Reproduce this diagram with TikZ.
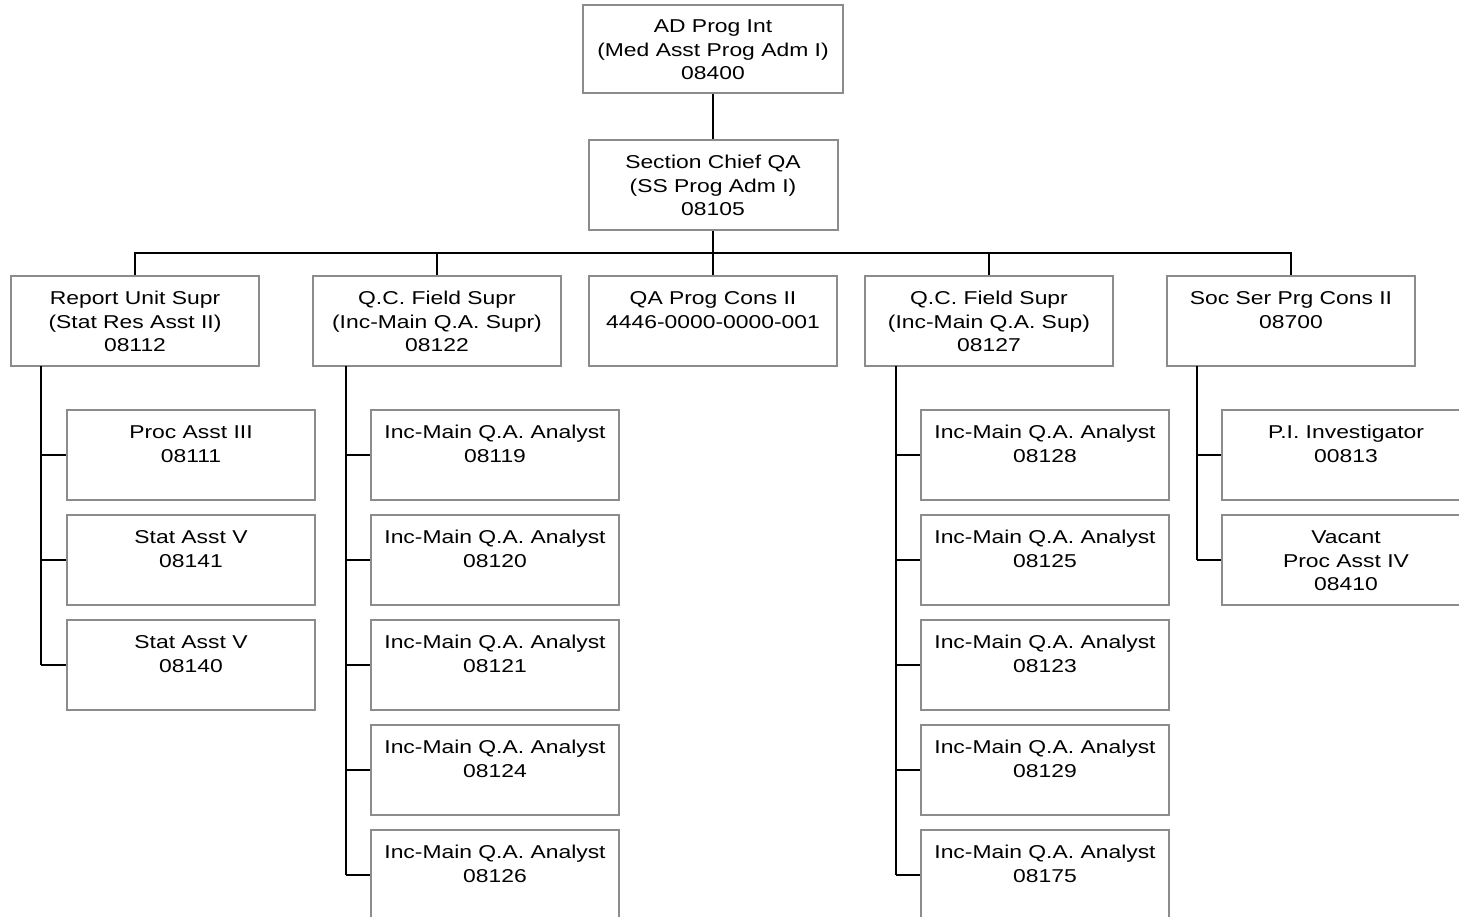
\documentclass[tikz,border=0pt]{standalone}
\usepackage{fontspec}
\setmainfont{Liberation Sans}[FakeStretch=1.23]
\definecolor{boxgray}{RGB}{140,140,140}
\newcommand\ls{\rule[-4pt]{0pt}{22pt}}
\begin{document}
\begin{tikzpicture}[x=1pt,y=-1pt,
  orgbox/.style={draw=boxgray, line width=2pt, fill=white, minimum width=248pt,
    minimum height=90pt, inner sep=0pt, align=center,
    font=\fontsize{18.6}{23.5}\selectfont},
  topbox/.style={orgbox, minimum width=260pt, minimum height=88pt},
  spine/.style={line width=1.8pt, black},
  stub/.style={line width=1.1pt, black}]
\clip (0,0) rectangle (1459,916);
\fill[white] (0,0) rectangle (1459,916);

% top levels
\node[topbox] (A) at (713,49) {\ls AD Prog Int\\\ls (Med Asst Prog Adm I)\\\ls 08400};
\node[orgbox, minimum width=249pt] (B) at (713,185) {\ls Section Chief QA\\\ls (SS Prog Adm I)\\\ls 08105};

% second level
\node[orgbox] (R)  at (135,321) {\ls Report Unit Supr\\\ls (Stat Res Asst II)\\\ls 08112};
\node[orgbox] (Q1) at (437,321) {\ls Q.C. Field Supr\\\ls (Inc-Main Q.A. Supr)\\\ls 08122};
\node[orgbox] (QA) at (713,321) {\ls QA Prog Cons II\\\ls 4446-0000-0000-001\\\ls};
\node[orgbox] (Q2) at (989,321) {\ls Q.C. Field Supr\\\ls (Inc-Main Q.A. Sup)\\\ls 08127};
\node[orgbox] (S)  at (1291,321) {\ls Soc Ser Prg Cons II\\\ls 08700\\\ls};

\coordinate (bar) at (713,253);
\draw[stub] (A.south) -- (B.north);
\draw[spine] (B.south) -- (bar);
\draw[spine] (R.north) -- (R.north |- bar) -- (S.north |- bar) -- (S.north);
\draw[spine] (Q1.north |- bar) -- (Q1.north);
\draw[spine] (QA.north |- bar) -- (QA.north);
\draw[spine] (Q2.north |- bar) -- (Q2.north);

% Report children
\node[orgbox] (R1) at (191,455) {\ls Proc Asst III\\\ls 08111\\\ls};
\node[orgbox] (R2) at (191,560) {\ls Stat Asst V\\\ls 08141\\\ls};
\node[orgbox] (R3) at (191,665) {\ls Stat Asst V\\\ls 08140\\\ls};
\coordinate (Rs) at (41,366);
\draw[spine] (Rs) -- (Rs |- R3.west);
\foreach \c in {R1,R2,R3} \draw[stub] (Rs |- \c.west) -- (\c.west);

% Q1 children
\node[orgbox] (Q11) at (495,455) {\ls Inc-Main Q.A. Analyst\\\ls 08119\\\ls};
\node[orgbox] (Q12) at (495,560) {\ls Inc-Main Q.A. Analyst\\\ls 08120\\\ls};
\node[orgbox] (Q13) at (495,665) {\ls Inc-Main Q.A. Analyst\\\ls 08121\\\ls};
\node[orgbox] (Q14) at (495,770) {\ls Inc-Main Q.A. Analyst\\\ls 08124\\\ls};
\node[orgbox] (Q15) at (495,875) {\ls Inc-Main Q.A. Analyst\\\ls 08126\\\ls};
\coordinate (Q1s) at (346,366);
\draw[spine] (Q1s) -- (Q1s |- Q15.west);
\foreach \c in {Q11,Q12,Q13,Q14,Q15} \draw[stub] (Q1s |- \c.west) -- (\c.west);

% Q2 children
\node[orgbox] (Q21) at (1045,455) {\ls Inc-Main Q.A. Analyst\\\ls 08128\\\ls};
\node[orgbox] (Q22) at (1045,560) {\ls Inc-Main Q.A. Analyst\\\ls 08125\\\ls};
\node[orgbox] (Q23) at (1045,665) {\ls Inc-Main Q.A. Analyst\\\ls 08123\\\ls};
\node[orgbox] (Q24) at (1045,770) {\ls Inc-Main Q.A. Analyst\\\ls 08129\\\ls};
\node[orgbox] (Q25) at (1045,875) {\ls Inc-Main Q.A. Analyst\\\ls 08175\\\ls};
\coordinate (Q2s) at (896,366);
\draw[spine] (Q2s) -- (Q2s |- Q25.west);
\foreach \c in {Q21,Q22,Q23,Q24,Q25} \draw[stub] (Q2s |- \c.west) -- (\c.west);

% Soc children
\node[orgbox] (S1) at (1346,455) {\ls P.I. Investigator\\\ls 00813\\\ls};
\node[orgbox] (S2) at (1346,560) {\ls Vacant\\\ls Proc Asst IV\\\ls 08410};
\coordinate (Ss) at (1197,366);
\draw[spine] (Ss) -- (Ss |- S2.west);
\foreach \c in {S1,S2} \draw[stub] (Ss |- \c.west) -- (\c.west);
\end{tikzpicture}
\end{document}
